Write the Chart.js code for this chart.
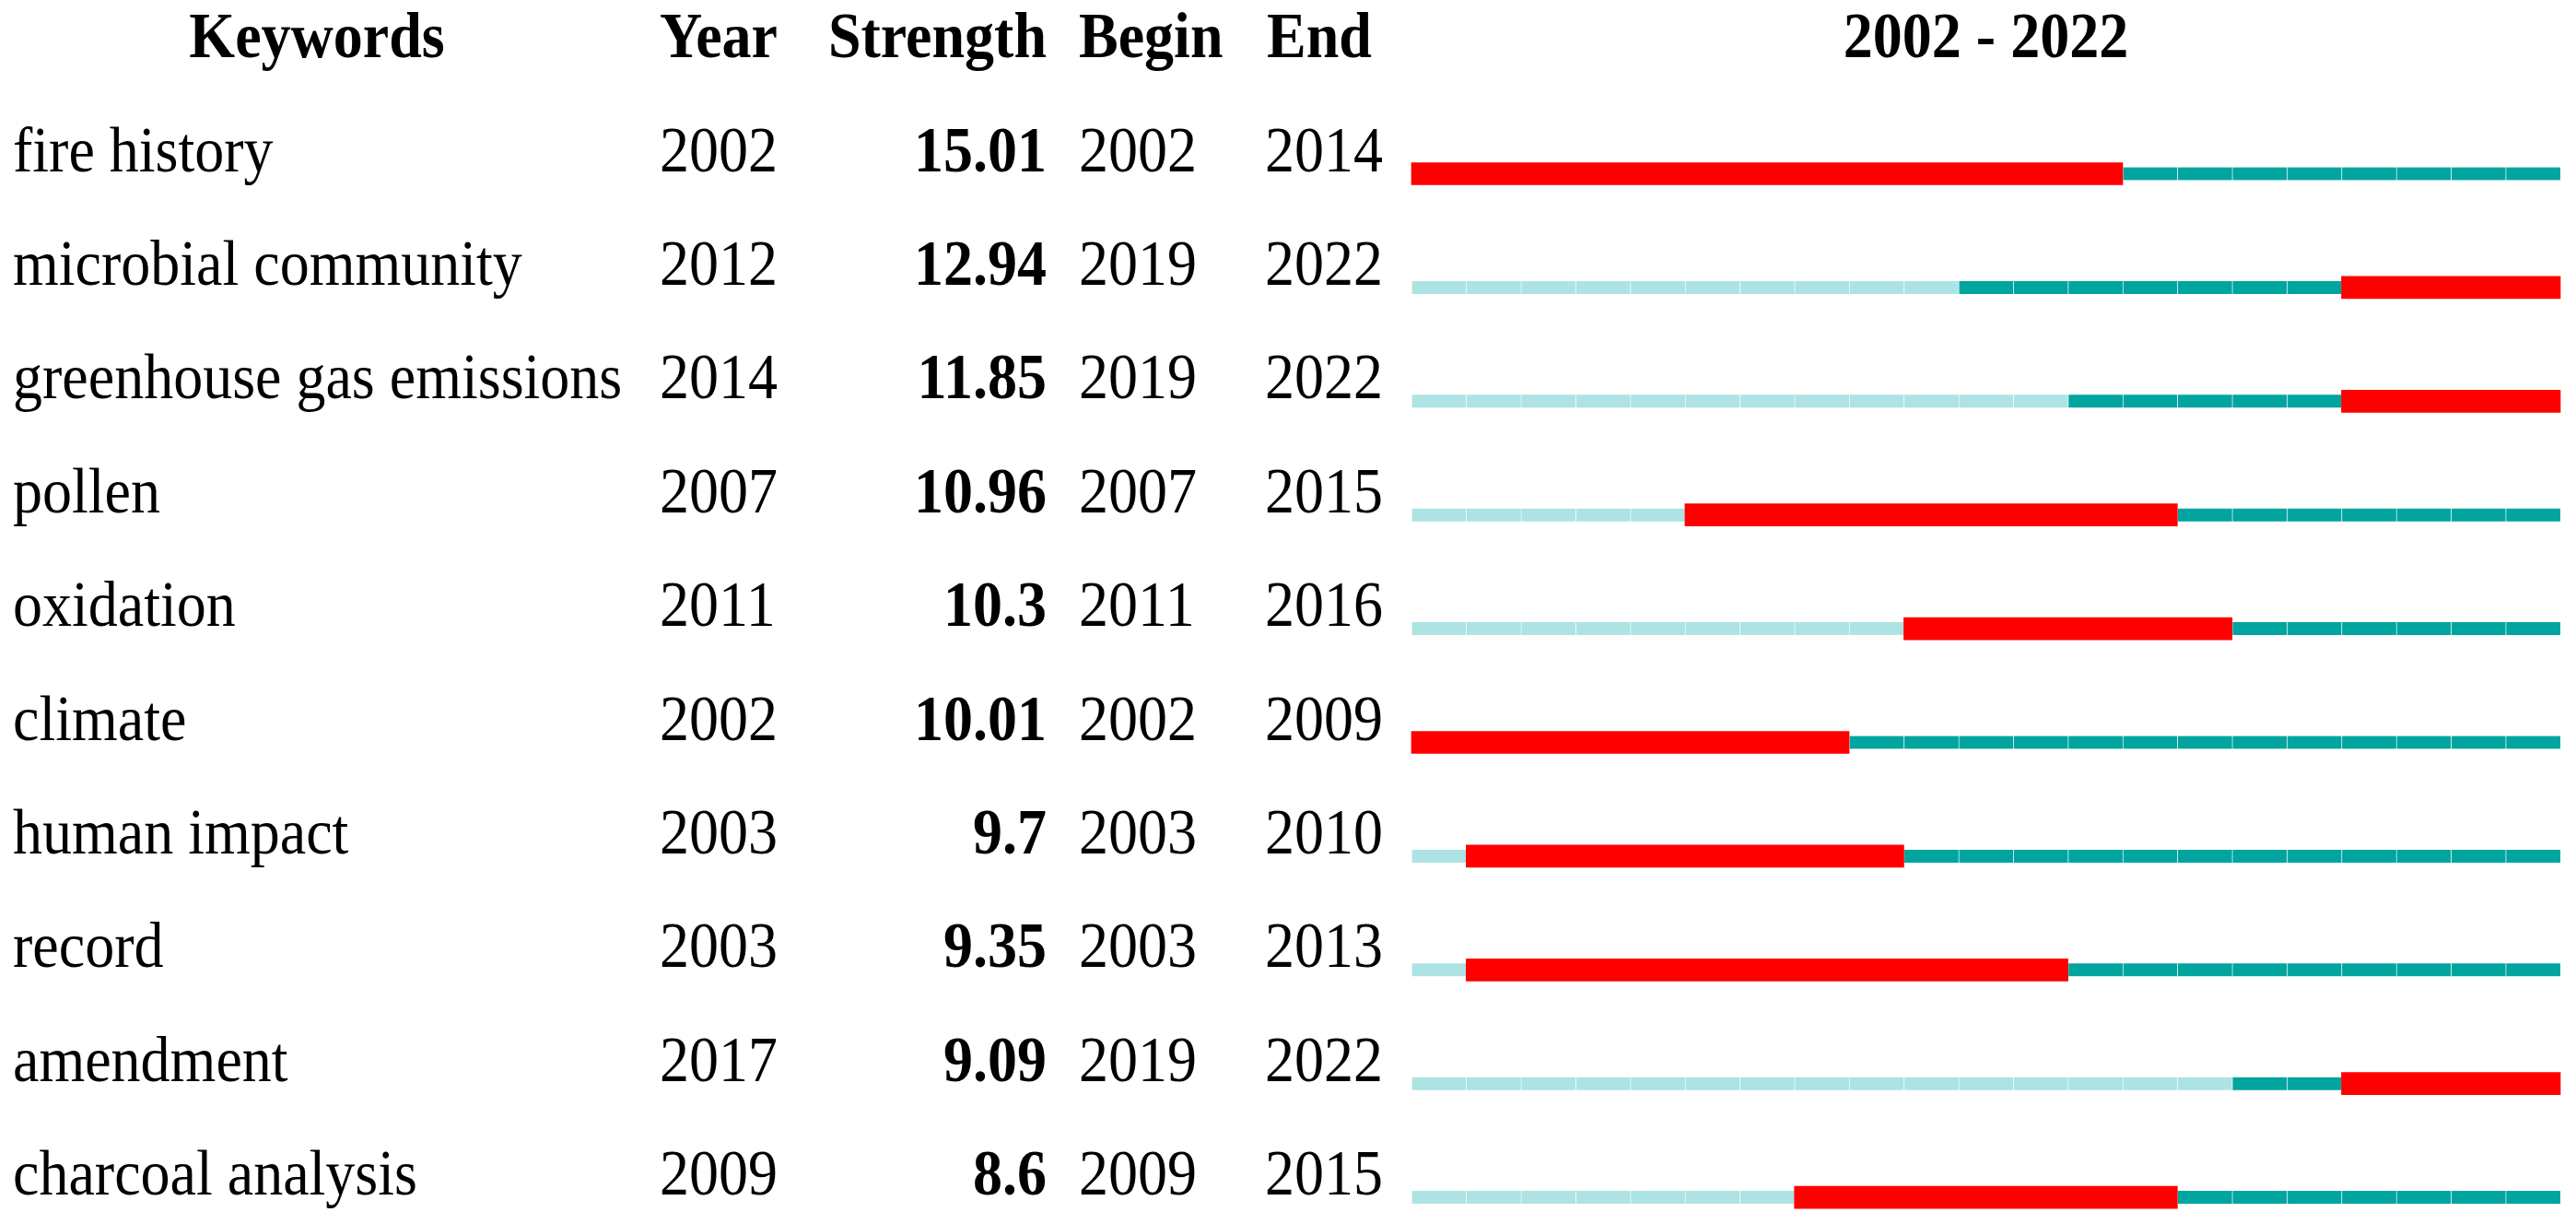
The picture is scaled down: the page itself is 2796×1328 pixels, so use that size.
<!DOCTYPE html>
<html>
<head>
<meta charset="utf-8">
<script src="https://cdn.jsdelivr.net/npm/chart.js@4.4.1/dist/chart.umd.min.js"></script>
<style>
  html, body { margin: 0; padding: 0; background: #fff; }
  .frame { position: relative; width: 2796px; height: 1328px; }
</style>
</head>
<body>
<div class="frame"><canvas id="burst"></canvas></div>
<script>
/* Top 10 keywords with the strongest citation bursts, 2002–2022 */

const KEYWORDS = ['fire history', 'microbial community', 'greenhouse gas emissions', 'pollen',
  'oxidation', 'climate', 'human impact', 'record', 'amendment', 'charcoal analysis'];
const YEAR     = [2002, 2012, 2014, 2007, 2011, 2002, 2003, 2003, 2017, 2009];
const STRENGTH = [15.01, 12.94, 11.85, 10.96, 10.3, 10.01, 9.7, 9.35, 9.09, 8.6];
const BEGIN    = [2002, 2019, 2019, 2007, 2011, 2002, 2003, 2003, 2019, 2009];
const END      = [2014, 2022, 2022, 2015, 2016, 2009, 2010, 2013, 2022, 2015];
const YEARS    = [2002, 2003, 2004, 2005, 2006, 2007, 2008, 2009, 2010, 2011,
  2012, 2013, 2014, 2015, 2016, 2017, 2018, 2019, 2020, 2021, 2022];
const HEADERS  = ['Keywords', 'Year', 'Strength', 'Begin', 'End'];

const RED   = '#ff0000';
const TEAL  = '#00a59f';
const LIGHT = '#ade3e3';
const SERIF = '"Liberation Serif", "Times New Roman", serif';

// one dataset per year column: light before the keyword appears, dark after
const cellSets = YEARS.map(y => ({
  data: KEYWORDS.map(() => [y, y + 1]),
  backgroundColor: YEAR.map(yr => (y < yr ? LIGHT : TEAL)),
  borderColor: 'rgba(255,255,255,0.12)',
  borderWidth: { left: 1, right: 0, top: 0, bottom: 0 },
  borderSkipped: false,
  barThickness: 14,
  grouped: false,
  order: 1,
  clip: false,
}));

const burstSet = {
  data: BEGIN.map((b, i) => [b, END[i] + 1]),
  backgroundColor: RED,
  borderWidth: 0,
  barThickness: 24,
  grouped: false,
  order: 0,
  clip: false,
};

// text columns drawn beside the timeline
function stretchText(ctx, text, x, y, align) {
  ctx.save();
  ctx.translate(x, y);
  ctx.scale(1, 1.1);
  ctx.textAlign = align;
  ctx.fillText(text, 0, 0);
  ctx.restore();
}

const tablePlugin = {
  id: 'table',
  afterDraw(chart) {
    const ctx = chart.ctx;
    const ys = chart.scales.y;
    const xs = chart.scales.x;
    ctx.save();
    ctx.fillStyle = '#000';
    ctx.textBaseline = 'alphabetic';

    // header
    ctx.font = `bold 64px ${SERIF}`;
    const hy = 62;
    stretchText(ctx, HEADERS[0], 344, hy, 'center');
    stretchText(ctx, HEADERS[1], 716, hy, 'left');
    stretchText(ctx, HEADERS[2], 1136, hy, 'right');
    stretchText(ctx, HEADERS[3], 1171, hy, 'left');
    stretchText(ctx, HEADERS[4], 1375, hy, 'left');
    const mid = (xs.left + xs.right) / 2;
    stretchText(ctx, `${YEARS[0]} - ${YEARS[YEARS.length - 1]}`, mid, hy, 'center');

    // rows
    KEYWORDS.forEach((k, i) => {
      const y = ys.getPixelForValue(i) - 3;
      ctx.font = `64px ${SERIF}`;
      stretchText(ctx, k, 14, y, 'left');
      stretchText(ctx, String(YEAR[i]), 716, y, 'left');
      stretchText(ctx, String(BEGIN[i]), 1171, y, 'left');
      stretchText(ctx, String(END[i]), 1373, y, 'left');
      ctx.font = `bold 64px ${SERIF}`;
      stretchText(ctx, String(STRENGTH[i]), 1136, y, 'right');
    });
    ctx.restore();
  }
};

new Chart(document.getElementById('burst'), {
  type: 'bar',
  data: { labels: KEYWORDS, datasets: [burstSet, ...cellSets] },
  options: {
    indexAxis: 'y',
    responsive: true,
    maintainAspectRatio: false,
    animation: false,
    layout: { padding: { left: 1532, right: 17, top: 188.5, bottom: 28.9 } },
    plugins: { legend: { display: false }, tooltip: { enabled: false }, title: { display: false } },
    scales: {
      x: { type: 'linear', min: YEARS[0], max: YEARS[YEARS.length - 1] + 1, display: false },
      y: { type: 'category', offset: false, display: false },
    },
  },
  plugins: [tablePlugin],
});
</script>
</body>
</html>
